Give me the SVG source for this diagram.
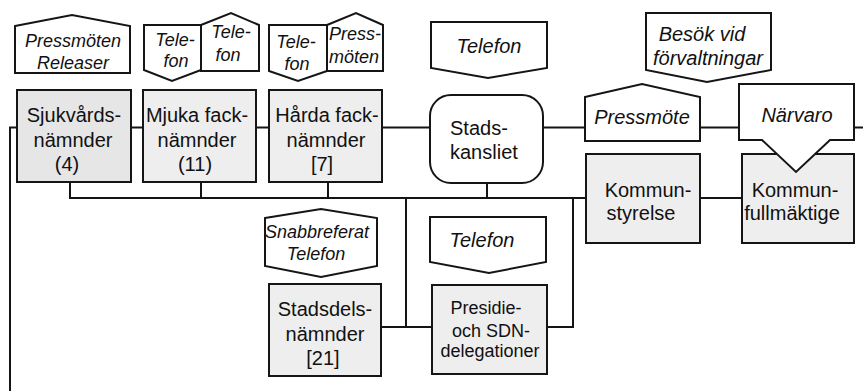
<svg xmlns="http://www.w3.org/2000/svg" width="863" height="391" viewBox="0 0 863 391">
<style>
.box{fill:#eeeeee;stroke:#151515;stroke-width:2}
.lbl{fill:#ffffff;stroke:#151515;stroke-width:2;stroke-linejoin:miter}
.t{font-family:"Liberation Sans",Arial,sans-serif;font-size:20px;fill:#111;text-anchor:middle}
.s{font-size:18px}
.i{font-family:"Liberation Sans",Arial,sans-serif;font-style:italic;font-size:18px;fill:#111;text-anchor:middle}
.b{font-size:20px}
.c{fill:none;stroke:#151515;stroke-width:2}
</style>
<rect width="863" height="391" fill="#ffffff"/>
<g id="connectors">
<path class="c" d="M10,391 V127.5 H17"/>
<path class="c" d="M131,127.5 H143 M256,127.5 H269 M382,127.5 H430 M543,127.5 H585 M700,127.5 H740 M853,127.5 H863"/>
<path class="c" d="M70,182 V198 H586 M201,182 V198 M328,182 V198 M487,183 V198"/>
<path class="c" d="M406,198 V327 M381,327 H432 M573,198 V327 H547"/>
<path class="c" d="M700,198 H742"/>
</g>
<g id="lbl-pressmoten-releaser">
<polygon class="lbl" points="15,26 72,15 130,26 130,73 15,73"/>
<text class="i" x="73" y="47">Pressmöten</text>
<text class="i" x="73" y="69">Releaser</text>
</g>
<g id="lbl-telefon-mjuka-1">
<polygon class="lbl" points="144,25 201,25 201,70 172,81 144,70"/>
<text class="i" x="175" y="46">Tele-</text>
<text class="i" x="176" y="67">fon</text>
</g>
<g id="lbl-telefon-mjuka-2">
<polygon class="lbl" points="201,25 231,13 259,25 259,71 201,71"/>
<text class="i" x="231" y="38">Tele-</text>
<text class="i" x="228" y="61">fon</text>
</g>
<g id="lbl-telefon-harda">
<polygon class="lbl" points="269,25 327,25 327,71 298,81 269,71"/>
<text class="i" x="296" y="48">Tele-</text>
<text class="i" x="297" y="70">fon</text>
</g>
<g id="lbl-pressmoten-harda">
<polygon class="lbl" points="327,25 356,13 383,25 383,71 327,71"/>
<text class="i" x="355" y="40">Press-</text>
<text class="i" x="354" y="63">möten</text>
</g>
<g id="lbl-telefon-stads">
<polygon class="lbl" points="431,22 547,22 547,68 488,78 431,68"/>
<text class="i b" x="489" y="53">Telefon</text>
</g>
<g id="lbl-besok">
<polygon class="lbl" points="646,13 771,13 771,70 707,82 646,70"/>
<text class="i b" x="702" y="41">Besök vid</text>
<text class="i b" x="708" y="65">förvaltningar</text>
</g>
<g id="sjukvards">
<rect class="box" x="17" y="90" width="114" height="92" style="fill:#e6e6e6"/>
<text class="t" x="74" y="122">Sjukvårds-</text>
<text class="t" x="73" y="147">nämnder</text>
<text class="t" x="67" y="171">(4)</text>
</g>
<g id="mjuka">
<rect class="box" x="143" y="90" width="113" height="92"/>
<text class="t" x="197" y="122">Mjuka fack-</text>
<text class="t" x="197" y="147">nämnder</text>
<text class="t" x="195" y="171">(11)</text>
</g>
<g id="harda">
<rect class="box" x="269" y="90" width="113" height="92"/>
<text class="t" x="327" y="122">Hårda fack-</text>
<text class="t" x="326" y="147">nämnder</text>
<text class="t" x="322" y="171">[7]</text>
</g>
<g id="stadskansliet">
<rect x="430" y="95" width="113" height="88" rx="21" fill="#ffffff" stroke="#151515" stroke-width="2"/>
<text class="t" x="450" y="135" style="text-anchor:start">Stads-</text>
<text class="t" x="450" y="159" style="text-anchor:start">kansliet</text>
</g>
<g id="pressmote">
<polygon class="lbl" points="585,97 642,84 700,97 700,141 585,141"/>
<text class="i b" x="642" y="124">Pressmöte</text>
</g>
<g id="kommunstyrelse">
<rect class="box" x="586" y="154" width="114" height="89"/>
<text class="t" x="648" y="197">Kommun-</text>
<text class="t" x="641" y="220">styrelse</text>
</g>
<g id="kommunfullmaktige">
<rect class="box" x="742" y="154" width="112" height="89"/>
<text class="t" x="795" y="197">Kommun-</text>
<text class="t" x="792" y="220">fullmäktige</text>
</g>
<g id="narvaro">
<polygon class="lbl" points="739,84 854,84 854,140 830,140 796,172 762,140 739,140"/>
<text class="i b" x="797" y="122">Närvaro</text>
</g>
<g id="lbl-snabbreferat">
<polygon class="lbl" points="265,218 321,209 377,218 377,266 321,277 265,266"/>
<text class="i" x="317" y="238">Snabbreferat</text>
<text class="i" x="316" y="260">Telefon</text>
</g>
<g id="lbl-telefon-presidie">
<polygon class="lbl" points="430,217 546,217 546,262 489,273 430,262"/>
<text class="i b" x="482" y="247">Telefon</text>
</g>
<g id="stadsdelsnamnder">
<rect class="box" x="269" y="284" width="112" height="92"/>
<text class="t" x="325" y="316">Stadsdels-</text>
<text class="t" x="325" y="341">nämnder</text>
<text class="t" x="323" y="365">[21]</text>
</g>
<g id="presidie">
<rect class="box" x="432" y="285" width="115" height="89"/>
<text class="t s" x="486" y="314">Presidie-</text>
<text class="t s" x="491" y="337">och SDN-</text>
<text class="t s" x="490" y="357">delegationer</text>
</g>
</svg>
